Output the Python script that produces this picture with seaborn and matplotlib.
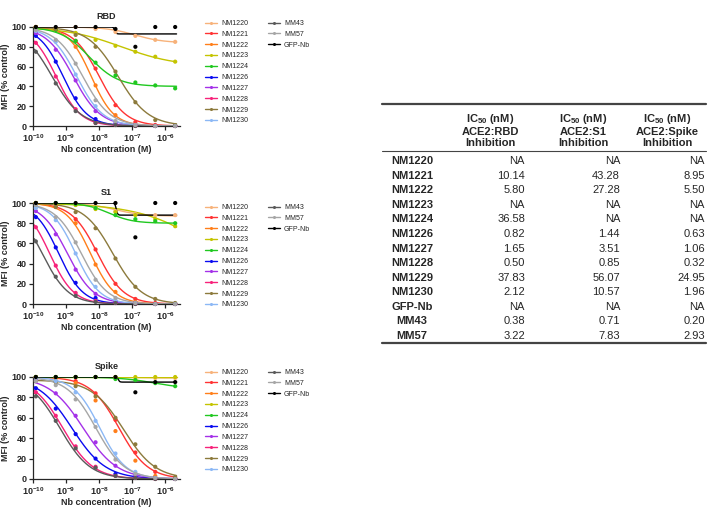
import numpy as np
import pandas as pd
import matplotlib
matplotlib.use("Agg")
import matplotlib.pyplot as plt
import seaborn as sns
from matplotlib.lines import Line2D

# Nanobody names and colours
names = ['NM1220', 'NM1221', 'NM1222', 'NM1223', 'NM1224', 'NM1226', 'NM1227',
         'NM1228', 'NM1229', 'NM1230', 'MM43', 'MM57', 'GFP-Nb']
colors = ['#F7B27A', '#FF3333', '#FF7F1A', '#C4C400', '#20C820', '#0A0AF0', '#A431E8',
          '#F7227A', '#8C7A3C', '#8CB8F5', '#5A5A5A', '#A6A6A6', '#000000']

# 4-fold dilution series (M)
conc = [1.22e-10, 4.88e-10, 1.95e-9, 7.81e-9, 3.125e-8, 1.25e-7, 5e-7, 2e-6]

# measured MFI (% control), one row per nanobody
rbd_mfi = [
    [100, 99, 100, 98, 95, 91, 87, 85],
    [100, 98, 86, 58, 21, 4, 1, 0],
    [100, 97, 80, 41, 11, 1, 0, 0],
    [100, 98, 94, 87, 81, 75, 70, 65],
    [99, 97, 86, 64, 51, 44, 41, 38],
    [91, 65, 28, 7, 2, 1, 0, 0],
    [94, 77, 46, 15, 3, 1, 0, 0],
    [84, 50, 17, 3, 1, 0, 0, 0],
    [100, 98, 92, 80, 55, 24, 6, 1],
    [96, 85, 52, 20, 4, 1, 0, 0],
    [75, 43, 15, 3, 1, 0, 0, 0],
    [97, 87, 63, 26, 5, 1, 0, 0],
    [100, 100, 100, 100, 98, 80, 100, 100],
]
s1_mfi = [
    [100, 99, 98, 95, 92, 89, 88, 88],
    [100, 97, 84, 54, 20, 5, 1, 0],
    [100, 96, 80, 39, 12, 2, 0, 0],
    [100, 99, 98, 94, 91, 88, 84, 77],
    [100, 100, 99, 95, 88, 84, 82, 80],
    [86, 56, 21, 6, 2, 1, 0, 0],
    [92, 69, 34, 10, 2, 1, 0, 0],
    [76, 38, 11, 3, 1, 0, 0, 0],
    [100, 96, 91, 75, 45, 17, 5, 1],
    [95, 83, 50, 17, 4, 1, 0, 0],
    [62, 27, 8, 2, 1, 0, 0, 0],
    [98, 86, 61, 24, 6, 1, 0, 0],
    [100, 100, 100, 100, 100, 66, 100, 100],
]
spike_mfi = [
    [100, 100, 100, 100, 100, 99, 99, 99],
    [100, 99, 96, 84, 58, 26, 7, 1],
    [100, 99, 94, 77, 47, 18, 3, 0],
    [100, 100, 100, 100, 100, 100, 100, 100],
    [100, 100, 100, 100, 98, 97, 94, 91],
    [89, 69, 44, 20, 5, 2, 1, 0],
    [97, 84, 62, 36, 13, 4, 1, 0],
    [85, 62, 32, 12, 3, 1, 0, 0],
    [96, 95, 91, 81, 60, 34, 12, 2],
    [99, 96, 85, 57, 25, 7, 1, 0],
    [81, 57, 30, 11, 3, 1, 0, 0],
    [96, 92, 78, 51, 19, 5, 1, 0],
    [100, 100, 100, 100, 100, 85, 95, 95],
]

# fitted curve parameters: top, bottom, IC50 (M), hill slope (nan = no fit drawn)
rbd_fit = [
    [100, 84, 1.2e-7, 1.0], [100, 0, 1.014e-8, 1.1], [100, 0, 5.8e-9, 1.27],
    [100, 60, 4.7e-8, 0.52], [100, 40, 5e-9, 1.0], [100, 0, 8.2e-10, 1.2],
    [100, 0, 1.65e-9, 1.06], [100, 0, 5.0e-10, 1.18], [100, 0, 3.78e-8, 0.95],
    [100, 0, 2.12e-9, 1.1], [100, 0, 3.8e-10, 1.0], [100, 0, 3.22e-9, 1.06],
    [100, 93, 3.0e-8, 20],
]
s1_fit = [
    [100, 87, 3e-8, 1.0], [100, 0, 9e-9, 1.1], [100, 0, 5.5e-9, 1.2],
    [100, 0, 4e-5, 0.4], [100, 80, 2e-8, 1.2], [100, 0, 6e-10, 1.2],
    [100, 0, 1.1e-9, 1.1], [100, 0, 3.2e-10, 1.2], [100, 0, 2.6e-8, 1.0],
    [100, 0, 1.95e-9, 1.2], [100, 0, 1.9e-10, 1.1], [100, 0, 2.9e-9, 1.1],
    [100, 88, 3.3e-8, 20],
]
spike_fit = [
    [100, 99, 1e-7, 1.0], [100, 0, 4e-8, 1.0], [np.nan] * 4,
    [100, 100, 1e-7, 1.0], [100, 88, 5e-7, 0.8], [100, 0, 1.5e-9, 0.85],
    [100, 0, 3.3e-9, 0.85], [100, 0, 8e-10, 0.95], [97, 0, 5.5e-8, 0.9],
    [100, 0, 1.05e-8, 1.1], [100, 0, 6.5e-10, 0.95], [100, 0, 8e-9, 1.0],
    [100, 95, 3.8e-8, 20],
]

# IC50 table
table_rows = ['NM1220', 'NM1221', 'NM1222', 'NM1223', 'NM1224', 'NM1226', 'NM1227',
              'NM1228', 'NM1229', 'NM1230', 'GFP-Nb', 'MM43', 'MM57']
ic50_rbd = ['NA', '10.14', '5.80', 'NA', '36.58', '0.82', '1.65', '0.50', '37.83', '2.12', 'NA', '0.38', '3.22']
ic50_s1 = ['NA', '43.28', '27.28', 'NA', 'NA', '1.44', '3.51', '0.85', '56.07', '10.57', 'NA', '0.71', '7.83']
ic50_spike = ['NA', '8.95', '5.50', 'NA', 'NA', '0.63', '1.06', '0.32', '24.95', '1.96', 'NA', '0.20', '2.93']
table_headers = ['IC$_{50}$ (nM)\nACE2:RBD\nInhibition',
                 'IC$_{50}$ (nM)\nACE2:S1\nInhibition',
                 'IC$_{50}$ (nM)\nACE2:Spike\nInhibition']

sns.set_style('ticks')
plt.rcParams['font.family'] = ['Liberation Sans', 'DejaVu Sans']
plt.rcParams['font.weight'] = 'bold'
plt.rcParams['mathtext.fontset'] = 'custom'
plt.rcParams['mathtext.rm'] = 'Liberation Sans:bold'
plt.rcParams['mathtext.it'] = 'Liberation Sans:bold'
plt.rcParams['mathtext.bf'] = 'Liberation Sans:bold'
plt.rcParams['mathtext.default'] = 'rm'

W, H = 708, 508
fig = plt.figure(figsize=(W / 100, H / 100), dpi=100)
palette = dict(zip(names, colors))
xgrid = np.logspace(np.log10(1.1e-10), np.log10(2.2e-6), 300)


def px_axes(x0, y100, x1, y0):
    return fig.add_axes([x0 / W, 1 - y0 / H, (x1 - x0) / W, (y0 - y100) / H])


def draw_panel(ax, title, mfi, fit, leg_y):
    pts = pd.DataFrame([(n, c, v) for n, row in zip(names, mfi) for c, v in zip(conc, row)],
                       columns=['name', 'conc', 'mfi'])
    curves = []
    for n, (top, bot, ic, h) in zip(names, fit):
        if np.isnan(ic):
            continue
        yv = bot + (top - bot) / (1 + (xgrid / ic) ** h)
        curves += [(n, x, y) for x, y in zip(xgrid, yv)]
    cdf = pd.DataFrame(curves, columns=['name', 'conc', 'mfi'])
    sns.lineplot(data=cdf, x='conc', y='mfi', hue='name', hue_order=names, palette=palette,
                 linewidth=1.0, legend=False, ax=ax, sort=False, estimator=None)
    sns.scatterplot(data=pts, x='conc', y='mfi', hue='name', hue_order=names, palette=palette,
                    s=9, linewidth=0, legend=False, ax=ax, clip_on=False, zorder=3)
    ax.set_xscale('log')
    ax.set_xlim(1e-10, 2.8e-6)
    ax.set_ylim(0, 100)
    ax.set_xticks([1e-10, 1e-9, 1e-8, 1e-7, 1e-6])
    ax.set_xticklabels(['$10^{-10}$', '$10^{-9}$', '$10^{-8}$', '$10^{-7}$', '$10^{-6}$'])
    ax.xaxis.set_minor_locator(plt.NullLocator())
    ax.set_yticks([0, 20, 40, 60, 80, 100])
    ax.tick_params(labelsize=6.5, width=0.9, length=3, pad=1.5)
    for lab in ax.get_yticklabels() + ax.get_xticklabels():
        lab.set_fontweight('bold')
    for sp in ['left', 'bottom']:
        ax.spines[sp].set_linewidth(0.9)
    sns.despine(ax=ax)
    ax.set_title(title, fontsize=6.5, fontweight='bold', pad=6)
    ax.set_xlabel('Nb concentration (M)', fontsize=6.5, fontweight='bold', labelpad=0.5)
    ax.set_ylabel('MFI (% control)', fontsize=6.5, fontweight='bold', labelpad=1)

    def handles(idx):
        return [Line2D([], [], color=colors[i], lw=1.0, marker='o', ms=2.2, mew=0) for i in idx]
    kw = dict(loc='upper left', frameon=False, fontsize=5, handlelength=1.7,
              handletextpad=0.6, labelspacing=0.55, borderpad=0, borderaxespad=0)
    l1 = fig.legend(handles(range(10)), names[:10], bbox_to_anchor=(205 / W, 1 - (leg_y - 4) / H), **kw)
    l2 = fig.legend(handles(range(10, 13)), names[10:], bbox_to_anchor=(268 / W, 1 - (leg_y - 4) / H), **kw)
    for t in l1.get_texts() + l2.get_texts():
        t.set_fontweight('normal')


draw_panel(px_axes(33, 27, 180, 126), 'RBD', rbd_mfi, rbd_fit, 24)
draw_panel(px_axes(33, 203, 180, 304), 'S1', s1_mfi, s1_fit, 208)
draw_panel(px_axes(33, 377, 180, 479), 'Spike', spike_mfi, spike_fit, 373)

# table drawn in pixel coordinates
tab = fig.add_axes([0, 0, 1, 1])
tab.set_xlim(0, W)
tab.set_ylim(H, 0)
tab.axis('off')
tab.plot([382, 706], [104, 104], color='#444444', lw=1.6)
tab.plot([382, 706], [151, 151], color='#444444', lw=0.8)
tab.plot([382, 706], [343, 343], color='#444444', lw=1.6)
for xc, txt in zip([490, 583, 667], table_headers):
    tab.text(xc, 130, txt, ha='center', va='center', fontsize=8, fontweight='bold', linespacing=1.15)
row_y = np.linspace(161, 336, len(table_rows))
for y, n, a, b, c in zip(row_y, table_rows, ic50_rbd, ic50_s1, ic50_spike):
    tab.text(412, y, n, ha='center', va='center', fontsize=8, fontweight='bold')
    for xr, v in zip([525, 620, 705], [a, b, c]):
        tab.text(xr, y, v, ha='right', va='center', fontsize=8, fontweight='normal')

fig.savefig('out.png', dpi=100)
